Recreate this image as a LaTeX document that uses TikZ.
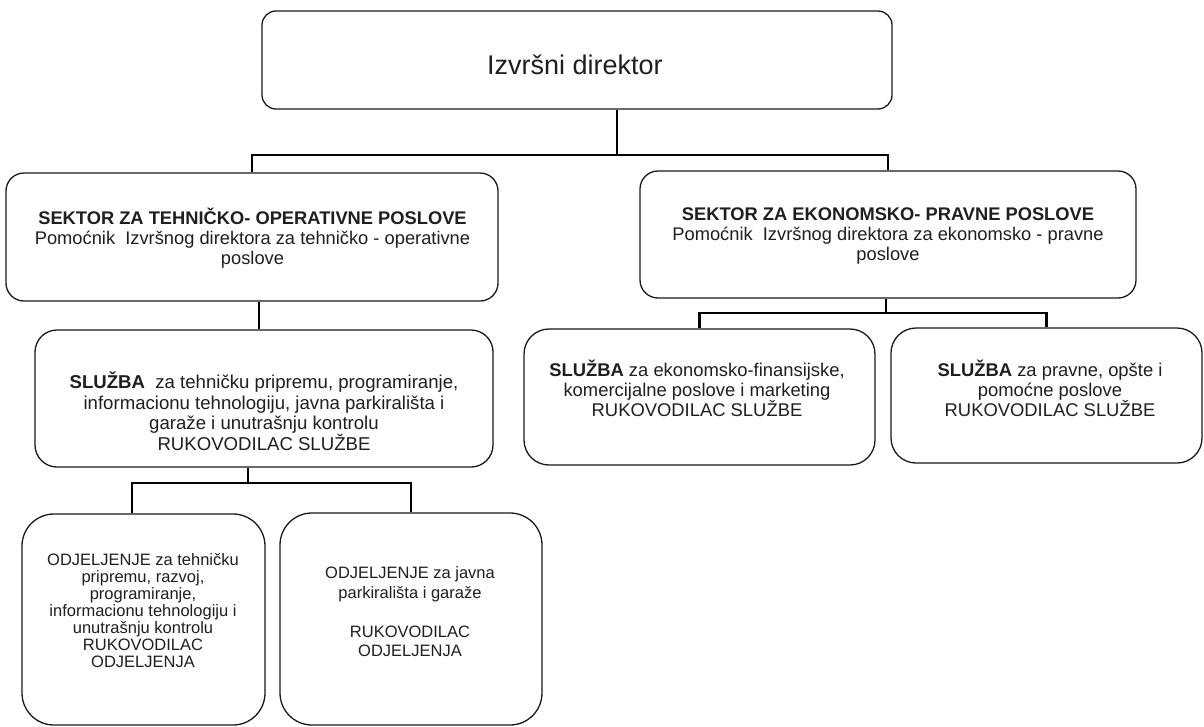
\documentclass[tikz,border=0pt]{standalone}
\usepackage{fontspec}
\setmainfont{Liberation Sans}
\begin{document}
\begin{tikzpicture}[x=1pt,y=-1pt,
  box/.style={draw=black!90, line width=1.3pt, rounded corners=#1, inner sep=0pt},
  conn/.style={draw=black, line width=2.6pt},
  txt/.style={align=center, inner sep=0pt, text=black!88},
  ftop/.style={font=\fontsize{27}{30}\selectfont},
  fsec/.style={font=\fontsize{18.3}{20}\selectfont},
  fslu/.style={font=\fontsize{18.6}{20.5}\selectfont},
  fslr/.style={font=\fontsize{18.4}{20}\selectfont},
  fodj/.style={font=\fontsize{16.5}{17}\selectfont},
  fodr/.style={font=\fontsize{16.5}{19.5}\selectfont}]
\useasboundingbox (0,0) rectangle (1204,726);
\fill[white] (0,0) rectangle (1204,726);

% boxes
\node[box=14pt, minimum width=630pt, minimum height=98pt] (top) at (577,60) {};
\node[box=18pt, minimum width=492pt, minimum height=128pt] (secL) at (252,237) {};
\node[box=18pt, minimum width=496pt, minimum height=127pt] (secR) at (888,234.5) {};
\node[box=22pt, minimum width=458pt, minimum height=137pt] (sluL) at (264,398.5) {};
\node[box=25pt, minimum width=351pt, minimum height=136pt] (sluE) at (699.5,397) {};
\node[box=25pt, minimum width=311pt, minimum height=135pt] (sluP) at (1046.5,395.5) {};
\node[box=32pt, minimum width=243pt, minimum height=211pt] (odjL) at (143.5,619.5) {};
\node[box=32pt, minimum width=262pt, minimum height=212pt] (odjR) at (411,619) {};

% texts
\node[txt, ftop] (ttop) at (575,65) {Izvršni direktor};
\node[txt, fsec] (tsecL) at (252.5,238) {\textbf{SEKTOR ZA TEHNIČKO- OPERATIVNE POSLOVE}\\Pomoćnik~ Izvršnog direktora za tehničko - operativne\\poslove};
\node[txt, fsec] (tsecR) at (888,236) {\textbf{SEKTOR ZA EKONOMSKO- PRAVNE POSLOVE}\\Pomoćnik~ Izvršnog direktora za ekonomsko - pravne\\poslove};
\node[txt, fslu] (tsluL) at (264,411) {\textbf{SLUŽBA}~ za tehničku pripremu, programiranje,\\informacionu tehnologiju, javna parkirališta i\\garaže i unutrašnju kontrolu\\RUKOVODILAC SLUŽBE};
\node[txt, fslr] (tsluE) at (697,388) {\textbf{SLUŽBA} za ekonomsko-finansijske,\\komercijalne poslove i marketing\\RUKOVODILAC SLUŽBE};
\node[txt, fslr] (tsluP) at (1050,388) {\textbf{SLUŽBA} za pravne, opšte i\\pomoćne poslove\\RUKOVODILAC SLUŽBE};
\node[txt, fodj] (todjL) at (143,611) {ODJELJENJE za tehničku\\pripremu, razvoj,\\programiranje,\\informacionu tehnologiju i\\unutrašnju kontrolu\\RUKOVODILAC\\ODJELJENJA};
\node[txt, fodr] (todjR) at (410,612) {ODJELJENJE za javna\\parkirališta i garaže\\[19.5pt]RUKOVODILAC\\ODJELJENJA};

% connectors
\coordinate (b1) at (617,155);
\draw[conn] (top.south -| b1) -- (b1);
\draw[conn] (secL.north) |- (b1) -| (secR.north);

\coordinate (v2) at (259,300);
\draw[conn] (secL.south -| v2) -- (sluL.north -| v2);

\coordinate (b2) at (886,313);
\draw[conn] (secR.south -| b2) -- (b2);
\draw[conn] (sluE.north) |- (b2) -| (sluP.north);

\coordinate (b3) at (248,483);
\coordinate (v3) at (132,483);
\draw[conn] (sluL.south -| b3) -- (b3);
\draw[conn] (odjL.north -| v3) |- (b3) -| (odjR.north);
\end{tikzpicture}
\end{document}
